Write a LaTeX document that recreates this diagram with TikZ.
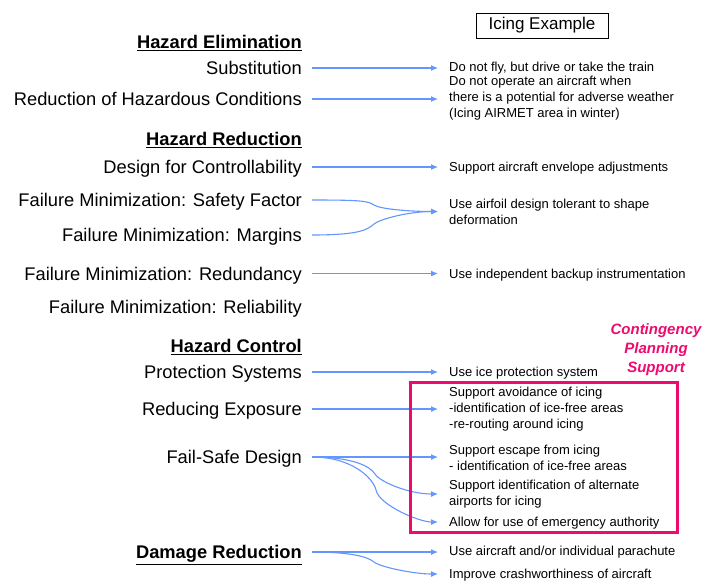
\documentclass[tikz,border=0pt]{standalone}
\usepackage{fontspec}
\setmainfont{Liberation Sans}
\usetikzlibrary{arrows.meta}
\definecolor{arrowblue}{RGB}{100,150,255}
\definecolor{cpmag}{RGB}{238,10,110}
\begin{document}
\begin{tikzpicture}[x=1pt,y=-1pt,
  lbl/.style={anchor=east, inner sep=0pt, text height=13.1pt, text depth=0pt, font=\fontsize{18.3}{21}\selectfont},
  head/.style={lbl, font=\fontsize{18.3}{21}\selectfont\bfseries},
  ex/.style={anchor=west, inner sep=0pt, align=left, font=\fontsize{13}{16}\selectfont},
  exone/.style={anchor=west, inner sep=0pt, text height=9.3pt, text depth=0pt, font=\fontsize{13}{16}\selectfont},
  arr/.style={draw=arrowblue, line width=1.1pt, -{Latex[length=7pt,width=6pt]}, shorten <=10pt, shorten >=11pt},
  cp/.style={text=cpmag, font=\fontsize{15}{19}\selectfont\bfseries\itshape, align=center, inner sep=0pt}]
\useasboundingbox[fill=white] (0,0) rectangle (717,582);

% header box
\node[draw, line width=0.9pt, minimum width=132pt, minimum height=25pt, inner sep=0pt,
  font=\fontsize{17}{20}\selectfont] (icing) at (542,25.5) {Icing Example};

% left column
\node[head] (he) at (302,42) {\underline{Hazard Elimination}};
\node[lbl] (sub) at (302,68) {Substitution};
\node[lbl] (rhc) at (302,99) {Reduction of Hazardous Conditions};
\node[head] (hr) at (302,139) {\underline{Hazard Reduction}};
\node[lbl] (dfc) at (302,167) {Design for Controllability};
\node[lbl] (fsf) at (302,200) {Failure Minimization: Safety Factor};
\node[lbl] (fmg) at (302,235) {Failure Minimization: Margins};
\node[lbl] (frd) at (302,273.5) {Failure Minimization: Redundancy};
\node[lbl] (frl) at (302,306.5) {Failure Minimization: Reliability};
\node[head] (hc) at (302,346) {\underline{Hazard Control}};
\node[lbl] (ps) at (302,372) {Protection Systems};
\node[lbl] (rex) at (302,409) {Reducing Exposure};
\node[lbl] (fsd) at (302,457) {Fail-Safe Design};
\node[head] (dr) at (302,552) {\underline{Damage Reduction}};

% right column
\node[exone] (e1) at (449,67) {Do not fly, but drive or take the train};
\node[ex] (e2) at (449,98.5) {Do not operate an aircraft when\\there is a potential for adverse weather\\(Icing AIRMET area in winter)};
\node[exone] (e3) at (449,167) {Support aircraft envelope adjustments};
\node[ex] (e4) at (449,211.5) {Use airfoil design tolerant to shape\\deformation};
\node[exone] (e5) at (449,274) {Use independent backup instrumentation};
\node[exone] (e6) at (449,372) {Use ice protection system};
\node[ex] (e7) at (449,409) {Support avoidance of icing\\-identification of ice-free areas\\-re-routing around icing};
\node[ex] (e8) at (449,457.5) {Support escape from icing\\- identification of ice-free areas};
\node[ex] (e9) at (449,494) {Support identification of alternate\\airports for icing};
\node[exone] (e10) at (449,522) {Allow for use of emergency authority};
\node[exone] (e11) at (449,551) {Use aircraft and/or individual parachute};
\node[exone] (e12) at (449,574) {Improve crashworthiness of aircraft};

% contingency label
\node[cp] (cps) at (656,350) {Contingency\\Planning\\Support};

% connectors
\draw[arr] (sub.east) -- (sub.east -| e1.west);
\draw[arr] (rhc.east) -- (rhc.east -| e2.west);
\draw[arr] (dfc.east) -- (dfc.east -| e3.west);
\draw[arr] (fsf.east) .. controls +(60,0) and +(-6,-4) .. (374,205) .. controls +(6,4) and +(-40,0) .. (e4.west);
\draw[arr] (fmg.east) .. controls +(60,0) and +(-6,5) .. (374,224) .. controls +(6,-5) and +(-40,0) .. (e4.west);
\draw[arr] (frd.east) -- (frd.east -| e5.west);
\draw[arr] (ps.east) -- (ps.east -| e6.west);
\draw[arr] (rex.east) -- (rex.east -| e7.west);
\draw[arr] (fsd.east) -- (fsd.east -| e8.west);
\draw[arr] (fsd.east) .. controls +(50,0) and +(-5,-8) .. (375,474) .. controls +(5,8) and +(-40,0) .. (e9.west);
\draw[arr] (fsd.east) .. controls +(50,0) and +(-3,-12) .. (376,490) .. controls +(3,15) and +(-30,0) .. (e10.west);
\draw[arr] (dr.east) -- (dr.east -| e11.west);
\draw[arr] (dr.east) .. controls +(50,0) and +(-6,-5) .. (374,562) .. controls +(6,5) and +(-35,0) .. (e12.west);

% contingency box
\node[draw=cpmag, line width=3pt, minimum width=267pt, minimum height=150pt, inner sep=0pt] (cpbox) at (543.5,457) {};
\end{tikzpicture}
\end{document}
